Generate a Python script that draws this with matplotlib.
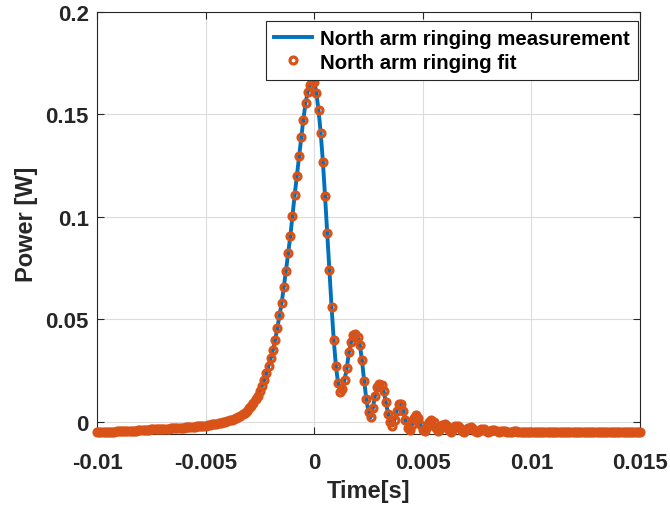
import numpy as np
import matplotlib
matplotlib.use("Agg")
import matplotlib.pyplot as plt

t_start = -0.01
t_step = 0.0001
power = [
    -0.0050, -0.0050, -0.0049, -0.0049, -0.0049, -0.0048, -0.0048, -0.0047, -0.0047, -0.0046,
    -0.0046, -0.0045, -0.0045, -0.0044, -0.0044, -0.0043, -0.0043, -0.0042, -0.0042, -0.0041,
    -0.0040, -0.0040, -0.0039, -0.0039, -0.0038, -0.0037, -0.0037, -0.0036, -0.0036, -0.0035,
    -0.0034, -0.0034, -0.0033, -0.0033, -0.0032, -0.0032, -0.0031, -0.0030, -0.0030, -0.0029,
    -0.0028, -0.0027, -0.0026, -0.0025, -0.0024, -0.0023, -0.0022, -0.0021, -0.0020, -0.0019,
    -0.0018, -0.0016, -0.0014, -0.0012, -0.0010, -0.0008, -0.0006, -0.0004, -0.0001, 0.0002,
    0.0005, 0.0008, 0.0011, 0.0015, 0.0019, 0.0024, 0.0030, 0.0037, 0.0045, 0.0055,
    0.0066, 0.0079, 0.0094, 0.0110, 0.0128, 0.0150, 0.0177, 0.0205, 0.0239, 0.0275,
    0.0310, 0.0351, 0.0400, 0.0457, 0.0520, 0.0580, 0.0657, 0.0738, 0.0824, 0.0906,
    0.1006, 0.1107, 0.1200, 0.1296, 0.1390, 0.1475, 0.1555, 0.1610, 0.1645, 0.1665,
    0.1660, 0.1605, 0.1520, 0.1410, 0.1270, 0.1100, 0.0920, 0.0740, 0.0560, 0.0400,
    0.0272, 0.0189, 0.0148, 0.0160, 0.0206, 0.0263, 0.0340, 0.0392, 0.0425, 0.0430,
    0.0413, 0.0376, 0.0300, 0.0200, 0.0112, 0.0047, 0.0023, 0.0067, 0.0128, 0.0169,
    0.0185, 0.0180, 0.0150, 0.0096, 0.0039, 0.0000, -0.0018, 0.0010, 0.0055, 0.0085,
    0.0085, 0.0055, 0.0010, -0.0030, -0.0040, -0.0015, 0.0020, 0.0035, 0.0020, -0.0015,
    -0.0040, -0.0045, -0.0025, 0.0000, 0.0010, 0.0000, -0.0030, -0.0045, -0.0035, -0.0015,
    -0.0010, -0.0020, -0.0040, -0.0047, -0.0035, -0.0022, -0.0018, -0.0028, -0.0043, -0.0048,
    -0.0040, -0.0030, -0.0027, -0.0033, -0.0045, -0.0049, -0.0042, -0.0034, -0.0034, -0.0043,
    -0.0049, -0.0045, -0.0039, -0.0039, -0.0045, -0.0049, -0.0046, -0.0042, -0.0043, -0.0047,
    -0.0049, -0.0047, -0.0045, -0.0046, -0.0048, -0.0049, -0.0048, -0.0047, -0.0048, -0.0049,
    -0.0049, -0.0048, -0.0048, -0.0049, -0.0049, -0.0049, -0.0048, -0.0049, -0.0049, -0.0049,
    -0.0049, -0.0049, -0.0049, -0.0049, -0.0049, -0.0049, -0.0049, -0.0049, -0.0049, -0.0049,
    -0.0049, -0.0049, -0.0049, -0.0049, -0.0050, -0.0050, -0.0050, -0.0050, -0.0050, -0.0050,
    -0.0050, -0.0050, -0.0050, -0.0050, -0.0050, -0.0050, -0.0050, -0.0050, -0.0050, -0.0050,
    -0.0050, -0.0050, -0.0050, -0.0050, -0.0050, -0.0050, -0.0050, -0.0050, -0.0050, -0.0050,
    -0.0050,
]
time = t_start + t_step * np.arange(len(power))

x_ticks = [-0.01, -0.005, 0, 0.005, 0.01, 0.015]
x_labels = ["-0.01", "-0.005", "0", "0.005", "0.01", "0.015"]
y_ticks = [0, 0.05, 0.1, 0.15, 0.2]
y_labels = ["0", "0.05", "0.1", "0.15", "0.2"]

plt.rcParams["font.family"] = ["Liberation Sans", "DejaVu Sans"]
plt.rcParams["font.weight"] = "bold"

fig = plt.figure(figsize=(6.7, 5.06), dpi=100)
ax = fig.add_axes([0.1448, 0.1403, 0.8104, 0.834])

ax.plot(time, power, color="#0072BD", lw=2.8, label="North arm ringing measurement", zorder=3)
ax.plot(time, power, ls="none", marker="o", ms=5, mfc="none", mec="#D95319", mew=2.3,
        label="North arm ringing fit", zorder=4, clip_on=False)

ax.set_xlim(-0.01, 0.015)
ax.set_ylim(-0.0059, 0.2)
ax.set_xticks(x_ticks)
ax.set_xticklabels(x_labels)
ax.set_yticks(y_ticks)
ax.set_yticklabels(y_labels)
ax.tick_params(direction="in", length=5, width=0.8, labelsize=16, colors="#262626",
               top=True, right=True, pad=6)
ax.tick_params(axis="x", pad=13)
for lab in ax.get_xticklabels() + ax.get_yticklabels():
    lab.set_fontweight("bold")
    lab.set_color("#262626")
ax.grid(True, color="#dcdcdc", lw=0.8)
ax.set_axisbelow(True)
for s in ax.spines.values():
    s.set_color("#262626")
    s.set_linewidth(0.8)

ax.set_xlabel("Time[s]", fontsize=17, fontweight="bold", color="#262626", labelpad=4)
ax.set_ylabel("Power [W]", fontsize=17, fontweight="bold", color="#262626", labelpad=5)

leg = ax.legend(loc="upper right", bbox_to_anchor=(0.996, 0.978), borderaxespad=0,
                prop={"weight": "bold", "size": 14.7}, frameon=True,
                fancybox=False, edgecolor="#262626", handlelength=1.85, handletextpad=0.4,
                borderpad=0.4, labelspacing=0.2, numpoints=1)
leg.get_frame().set_linewidth(0.8)
leg.get_frame().set_alpha(1)

fig.savefig("out.png", dpi=100)
